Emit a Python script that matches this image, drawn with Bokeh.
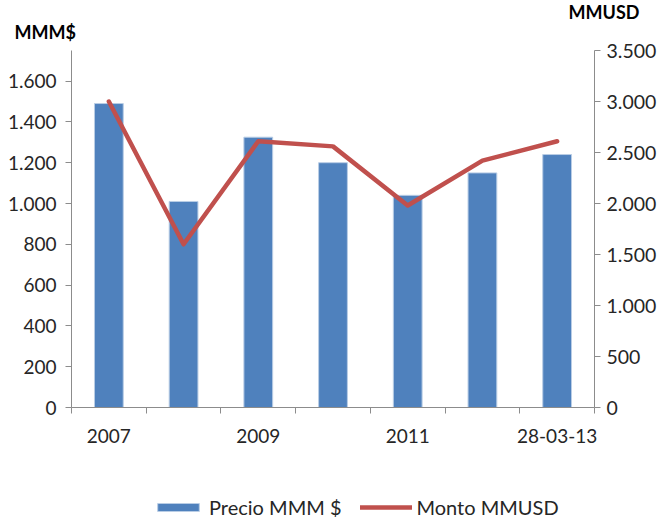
from bokeh.plotting import figure
from bokeh.layouts import column
from bokeh.models import (Range1d, LinearAxis, FixedTicker, CustomJSTickFormatter,
                          Legend, LegendItem, Title, ColumnDataSource)
from bokeh.embed import file_html
from bokeh.resources import INLINE

# ---- data ----
categories = ["2007", "2008", "2009", "2010", "2011", "2012", "28-03-13"]
tick_labels = ["2007", "", "2009", "", "2011", "", "28-03-13"]
precio_mmm = [1490, 1010, 1325, 1200, 1040, 1150, 1240]
monto_mmusd = [3000, 1600, 2610, 2560, 1980, 2420, 2610]
left_ticks = [0, 200, 400, 600, 800, 1000, 1200, 1400, 1600]
right_ticks = [0, 500, 1000, 1500, 2000, 2500, 3000, 3500]
left_max = 1750
right_max = 3500
series_names = ["Precio MMM $", "Monto MMUSD"]
unit_left = "MMM$"
unit_right = "MMUSD"

FONT = "Lato"
TXT = "#262626"
AX = "#8c8c8c"
BLUE = "#4F81BD"
RED = "#C0504D"

xpos = [i + 0.5 for i in range(len(categories))]
src = ColumnDataSource(dict(x=xpos, cat=categories, precio=precio_mmm, monto=monto_mmusd))

p = figure(width=667, height=489, output_backend="svg", toolbar_location=None,
           x_range=Range1d(0, len(categories)), y_range=Range1d(0, left_max),
           min_border_left=71, min_border_right=73, min_border_top=50, min_border_bottom=82)
p.extra_y_ranges = {"right": Range1d(0, right_max)}
p.outline_line_color = None
p.xgrid.visible = False
p.ygrid.visible = False
p.background_fill_color = "white"
p.border_fill_color = "white"

bar_style = dict(fill_color=BLUE, line_color="#B9CDE5", line_width=1)
line_style = dict(line_color=RED, line_width=4.5, line_cap="round", line_join="round")

p.vbar(x="x", top="precio", width=0.385, source=src, **bar_style)
p.line(x="x", y="monto", source=src, y_range_name="right", **line_style)

# x axis
xa = p.xaxis[0]
xa.ticker = FixedTicker(ticks=xpos, minor_ticks=list(range(len(categories) + 1)))
xa.formatter = CustomJSTickFormatter(args=dict(labels=tick_labels),
                                     code="const l = labels[Math.floor(tick)]; return l === undefined ? '' : l;")
xa.major_tick_line_color = None
xa.major_tick_out = 0
xa.major_tick_in = 0
xa.minor_tick_line_color = AX
xa.minor_tick_out = 6
xa.minor_tick_in = 0
xa.axis_line_color = AX
xa.major_label_standoff = 15
xa.major_label_text_font = FONT
xa.major_label_text_font_size = "19px"
xa.major_label_text_color = TXT

thousands = "return Math.round(tick).toString().replace(/\\B(?=(\\d{3})+(?!\\d))/g, '.');"

ya = p.yaxis[0]
ya.ticker = FixedTicker(ticks=left_ticks, minor_ticks=[])
ya.formatter = CustomJSTickFormatter(code=thousands)
ya.axis_line_color = AX
ya.major_tick_line_color = AX
ya.major_tick_out = 6
ya.major_tick_in = 0
ya.minor_tick_line_color = None
ya.major_label_standoff = 9
ya.major_label_text_font = FONT
ya.major_label_text_font_size = "19px"
ya.major_label_text_color = TXT

ra = LinearAxis(y_range_name="right", ticker=FixedTicker(ticks=right_ticks, minor_ticks=[]),
                formatter=CustomJSTickFormatter(code=thousands))
ra.axis_line_color = AX
ra.major_tick_line_color = AX
ra.major_tick_out = 6
ra.major_tick_in = 0
ra.minor_tick_line_color = None
ra.major_label_standoff = 6
ra.major_label_text_font = FONT
ra.major_label_text_font_size = "19.5px"
ra.major_label_text_color = TXT
p.add_layout(ra, "right")

# unit titles
p.add_layout(Title(text=unit_left, align="left", offset=-57, standoff=15,
                   text_font=FONT, text_font_style="bold", text_font_size="18px",
                   text_color="black"), "above")
p.add_layout(Title(text=unit_right, align="left", offset=497, standoff=-22,
                   text_font=FONT, text_font_style="bold", text_font_size="18px",
                   text_color="black"), "above")

# legend strip below the chart (its frame is aligned with the chart's frame)
lg = figure(width=667, height=30, output_backend="svg", toolbar_location=None,
            x_range=Range1d(0, 1), y_range=Range1d(0, 1),
            x_axis_type=None, y_axis_type=None,
            min_border_left=0, min_border_right=0, min_border_top=0, min_border_bottom=0)
lg.outline_line_color = None
lg.xgrid.visible = False
lg.ygrid.visible = False
# proxies placed far outside the visible range, used only for the legend swatches
lg_bar = lg.vbar(x=[0.5], top=[-50], bottom=[-60], width=0.1, **bar_style)
lg_line = lg.line(x=[0.4, 0.6], y=[-50, -50], **line_style)
legend = Legend(items=[LegendItem(label=series_names[0], renderers=[lg_bar]),
                       LegendItem(label=series_names[1], renderers=[lg_line])],
                orientation="horizontal", location=(81, 0),
                glyph_width=52, glyph_height=10, label_standoff=5, spacing=18,
                padding=0, margin=0, border_line_color=None, background_fill_alpha=0,
                label_text_font=FONT, label_text_font_size="20px", label_text_color=TXT)
lg.add_layout(legend, "center")

open("out.html", "w").write(file_html(column(p, lg, spacing=0), INLINE))
